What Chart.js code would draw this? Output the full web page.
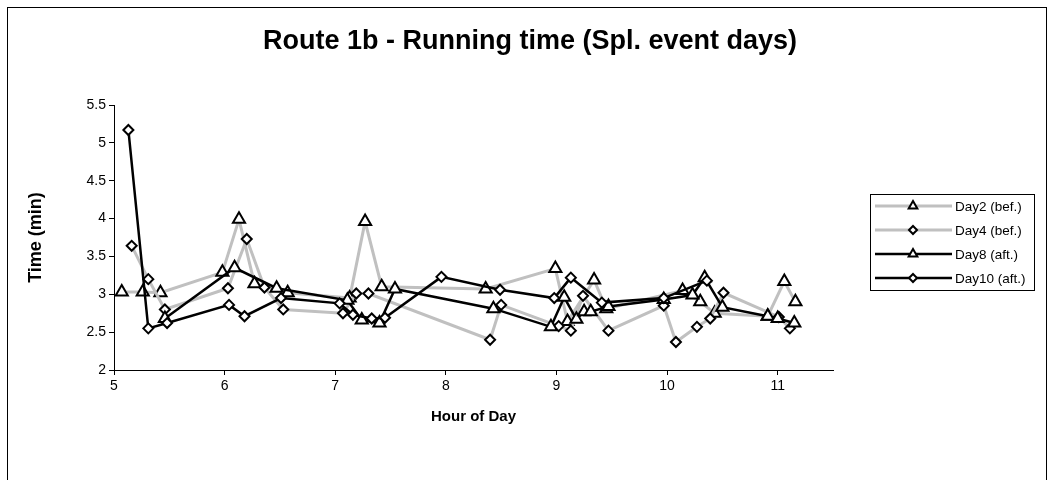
<!DOCTYPE html>
<html>
<head>
<meta charset="utf-8">
<script src="https://cdn.jsdelivr.net/npm/chart.js@4/dist/chart.umd.min.js"></script>
<style>
  html, body { margin: 0; padding: 0; background: #fff; }
  canvas { display: block; }
</style>
</head>
<body>
<canvas id="runChart" width="1050" height="480"></canvas>
<script>
const chartTitle = "Route 1b - Running time (Spl. event days)";
const seriesNames = ["Day2 (bef.)", "Day4 (bef.)", "Day8 (aft.)", "Day10 (aft.)"];
const xTickValues = [5, 6, 7, 8, 9, 10, 11];

const day2Hours = [5.07, 5.26, 5.42, 5.98, 6.13, 6.27, 6.57, 7.13, 7.27, 7.42, 8.36, 8.99, 9.10, 9.34, 9.45, 10.14, 10.30, 10.43, 10.91, 11.06, 11.16];
const day2Times = [3.03, 3.03, 3.02, 3.29, 3.99, 3.14, 3.02, 2.95, 3.96, 3.10, 3.07, 3.34, 2.64, 3.19, 2.81, 3.05, 2.90, 2.75, 2.71, 3.17, 2.90];

const day4Hours = [5.16, 5.31, 5.46, 6.03, 6.20, 6.36, 6.53, 7.07, 7.19, 7.30, 8.40, 8.50, 9.02, 9.13, 9.24, 9.47, 9.97, 10.08, 10.27, 10.39, 10.51, 11.01, 11.11];
const day4Times = [3.64, 3.20, 2.80, 3.08, 3.73, 3.09, 2.80, 2.75, 3.01, 3.01, 2.40, 2.86, 2.58, 2.52, 2.98, 2.52, 2.85, 2.37, 2.57, 2.68, 3.02, 2.70, 2.55];

const day8Hours = [5.46, 6.09, 6.47, 7.11, 7.24, 7.40, 7.54, 8.43, 8.95, 9.07, 9.18, 9.25, 9.31, 9.47, 9.97, 10.23, 10.34, 10.50, 10.91, 11.00, 11.15];
const day8Times = [2.68, 3.35, 3.08, 2.92, 2.66, 2.62, 3.07, 2.81, 2.57, 2.96, 2.67, 2.77, 2.77, 2.84, 2.93, 2.99, 3.22, 2.83, 2.71, 2.68, 2.62];

const day10Hours = [5.13, 5.31, 5.48, 6.04, 6.18, 6.51, 7.04, 7.16, 7.33, 7.45, 7.96, 8.49, 8.98, 9.13, 9.41, 9.97, 10.36];
const day10Times = [5.17, 2.55, 2.62, 2.86, 2.71, 2.95, 2.88, 2.73, 2.68, 2.69, 3.23, 3.06, 2.95, 3.22, 2.89, 2.95, 3.18];

const FONT = "'Liberation Sans', Arial, sans-serif";

function toPoints(hours, times) {
  return hours.map((h, i) => ({ x: h, y: times[i] }));
}

function makeSeries(label, hours, times, color, width, style, radius, order) {
  return {
    label,
    data: toPoints(hours, times),
    borderColor: color,
    borderWidth: width,
    pointStyle: style,
    pointRadius: radius,
    pointHoverRadius: radius,
    pointBackgroundColor: "#fff",
    pointBorderColor: "#000",
    pointBorderWidth: 2,
    tension: 0,
    fill: false,
    order
  };
}

// frame, title and the boxed legend are drawn by hand, like the spreadsheet original
const pageDecor = {
  id: "pageDecor",
  beforeDraw(chart) {
    const ctx = chart.ctx;
    ctx.save();
    ctx.fillStyle = "#fff";
    ctx.fillRect(0, 0, chart.width, chart.height);
    ctx.strokeStyle = "#000";
    ctx.lineWidth = 1;
    ctx.strokeRect(7.5, 7.5, 1039, 500);
    ctx.restore();
  },
  afterDraw(chart) {
    const ctx = chart.ctx;
    ctx.save();
    ctx.fillStyle = "#000";
    ctx.font = "bold 27px " + FONT;
    ctx.textAlign = "center";
    ctx.textBaseline = "middle";
    ctx.fillText(chartTitle, 530, 42);

    ctx.strokeStyle = "#000";
    ctx.lineWidth = 1;
    ctx.strokeRect(870.5, 194.5, 164, 96);

    chart.data.datasets.forEach((ds, i) => {
      const y = 206 + i * 24;
      ctx.strokeStyle = ds.borderColor;
      ctx.lineWidth = ds.borderWidth;
      ctx.beginPath();
      ctx.moveTo(875, y);
      ctx.lineTo(952, y);
      ctx.stroke();
      ctx.fillStyle = "#fff";
      ctx.strokeStyle = "#000";
      ctx.lineWidth = 2;
      Chart.helpers.drawPoint(ctx, {
        pointStyle: ds.pointStyle,
        radius: ds.pointStyle === "triangle" ? 5 : 4,
        rotation: 0,
        borderWidth: 2
      }, 913, y);
      ctx.fillStyle = "#000";
      ctx.font = "13.5px " + FONT;
      ctx.textAlign = "left";
      ctx.textBaseline = "middle";
      ctx.fillText(ds.label, 955, y + 1);
    });
    ctx.restore();
  }
};

new Chart(document.getElementById("runChart"), {
  type: "line",
  data: {
    datasets: [
      makeSeries(seriesNames[0], day2Hours, day2Times, "#c0c0c0", 3, "triangle", 7, 4),
      makeSeries(seriesNames[1], day4Hours, day4Times, "#c0c0c0", 3, "rectRot", 5, 3),
      makeSeries(seriesNames[2], day8Hours, day8Times, "#000", 2.5, "triangle", 7, 2),
      makeSeries(seriesNames[3], day10Hours, day10Times, "#000", 2.5, "rectRot", 5, 1)
    ]
  },
  options: {
    responsive: false,
    devicePixelRatio: 1,
    animation: false,
    layout: { padding: { top: 105, right: 217, left: 0, bottom: 0 } },
    plugins: {
      legend: { display: false },
      title: { display: false },
      tooltip: { enabled: false }
    },
    scales: {
      x: {
        type: "linear",
        min: 5,
        max: 11.5,
        ticks: {
          stepSize: 1,
          color: "#000",
          font: { family: FONT, size: 14 },
          padding: 3,
          maxRotation: 0,
          callback: (v) => String(v)
        },
        afterBuildTicks(scale) {
          scale.ticks = xTickValues.map((v) => ({ value: v }));
        },
        grid: { drawOnChartArea: false, color: "#000", tickLength: 5 },
        border: { color: "#000", width: 1 },
        title: {
          display: true,
          text: "Hour of Day",
          color: "#000",
          font: { family: FONT, size: 15, weight: "bold" },
          padding: { top: 0, bottom: 54 }
        },
        afterFit(scale) { scale.height = 110; }
      },
      y: {
        min: 2,
        max: 5.5,
        ticks: {
          stepSize: 0.5,
          color: "#000",
          font: { family: FONT, size: 14 },
          padding: 3,
          callback: (v) => String(v)
        },
        grid: { drawOnChartArea: false, color: "#000", tickLength: 5 },
        border: { color: "#000", width: 1 },
        title: {
          display: true,
          text: "Time (min)",
          color: "#000",
          font: { family: FONT, size: 18, weight: "bold" },
          padding: { top: 25, bottom: 0 }
        },
        afterFit(scale) { scale.width = 114; }
      }
    }
  },
  plugins: [pageDecor]
});
</script>
</body>
</html>
